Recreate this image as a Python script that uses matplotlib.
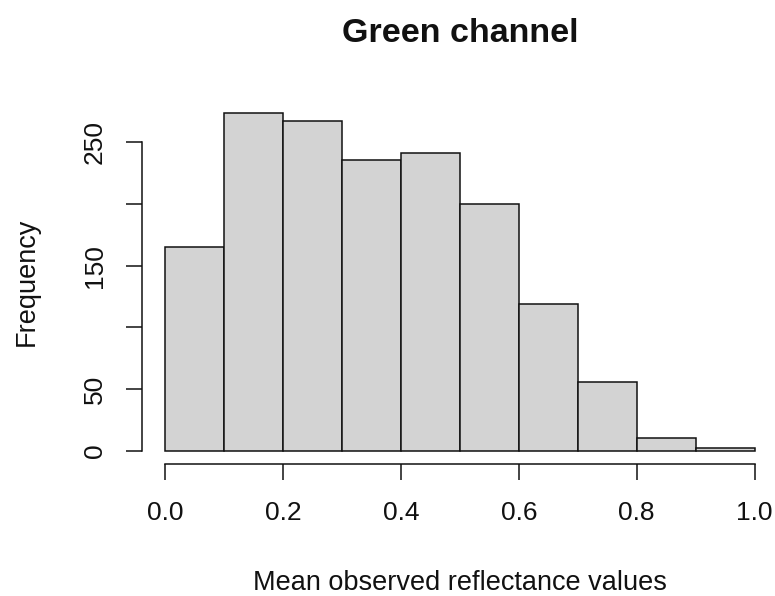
import matplotlib
matplotlib.use("Agg")
import matplotlib.pyplot as plt
import numpy as np

plt.rcParams['font.family'] = ['Liberation Sans', 'DejaVu Sans']

bin_edges = [0.0, 0.1, 0.2, 0.3, 0.4, 0.5, 0.6, 0.7, 0.8, 0.9, 1.0]
counts = [165, 274, 267, 236, 241, 200, 119, 56, 10, 2]
x_ticks = [0.0, 0.2, 0.4, 0.6, 0.8, 1.0]
x_tick_labels = ["0.0", "0.2", "0.4", "0.6", "0.8", "1.0"]
y_ticks = [0, 50, 100, 150, 200, 250]
y_tick_labels = ["0", "50", "", "150", "", "250"]
title = "Green channel"
xlabel = "Mean observed reflectance values"
ylabel = "Frequency"

W, H = 775, 596
fig = plt.figure(figsize=(W / 100, H / 100), dpi=100)

# axes region in pixels
left_px, right_px = 141.9, 778.1
top_px, bottom_px = 99.2, 464.2
ax = fig.add_axes([left_px / W, 1 - bottom_px / H,
                   (right_px - left_px) / W, (bottom_px - top_px) / H])

lefts = bin_edges[:-1]
widths = np.diff(bin_edges)
ax.bar(lefts, counts, width=widths, align='edge', color='#D3D3D3',
       edgecolor='#111111', linewidth=1.1)

ax.set_xlim(-0.04, 1.04)
ax.set_ylim(-0.04 * max(counts), 1.04 * max(counts))

for s in ['top', 'right']:
    ax.spines[s].set_visible(False)
ax.spines['left'].set_bounds(0, 250)
ax.spines['bottom'].set_bounds(0, 1)
for s in ['left', 'bottom']:
    ax.spines[s].set_linewidth(1.1)
    ax.spines[s].set_color('#111111')

ax.set_xticks(x_ticks)
ax.set_xticklabels(x_tick_labels)
ax.set_yticks(y_ticks)
ax.set_yticklabels(y_tick_labels)

ticklen = 11.5
ax.tick_params(axis='both', length=ticklen, width=1.1, color='#111111',
               labelsize=19, labelcolor='#111111')
ax.tick_params(axis='x', pad=29.0)
ax.tick_params(axis='y', pad=17.5)

for lab in ax.get_xticklabels():
    lab.set_verticalalignment('baseline')
for lab in ax.get_yticklabels():
    lab.set_rotation(90)
    lab.set_rotation_mode('anchor')
    lab.set_horizontalalignment('center')
    lab.set_verticalalignment('baseline')

cx = (left_px + right_px) / 2
cy = (top_px + bottom_px) / 2
fig.text(cx / W, 1 - 41.7 / H, title, ha='center', va='baseline',
         fontsize=24.5, fontweight='bold', color='#111111')
fig.text(cx / W, 1 - 590 / H, xlabel, ha='center', va='baseline',
         fontsize=19.5, color='#111111')
fig.text(33.3 / W, 1 - cy / H, ylabel, ha='center', va='baseline',
         rotation=90, rotation_mode='anchor', fontsize=19.5, color='#111111')

fig.savefig("out.png", dpi=100)
